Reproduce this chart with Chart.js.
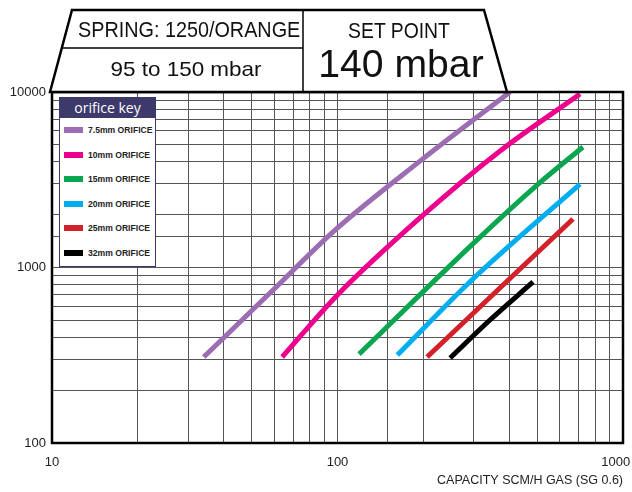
<!DOCTYPE html>
<html>
<head>
<meta charset="utf-8">
<script src="https://cdn.jsdelivr.net/npm/chart.js@4"></script>
<style>
  body { margin: 0; background: #fff; }
  #wrap { position: relative; width: 632px; height: 492px; overflow: hidden; }
  #chart { position: absolute; left: 0; top: 0; }
  #head { position: absolute; left: 0; top: 0; }
  .hdr { position: absolute; font-family: "Liberation Sans", Arial, sans-serif; color: #111; text-align: center; white-space: nowrap; line-height: 1; transform-origin: 50% 50%; }
  #key { position: absolute; left: 59px; top: 97px; width: 97px; height: 170px; background: #fff; border: 1.5px solid #3d3a6b; box-sizing: border-box; }
  #key .title { height: 20px; background: #3d3a6b; color: #fff; font: 14px "Open Sans", sans-serif; text-align: center; line-height: 20px; }
  #key .row { position: absolute; left: 4px; height: 10px; }
  #key .sw { position: absolute; left: 0; top: 2px; width: 19px; height: 6px; }
  #key .lb { position: absolute; left: 24px; top: 0; font: bold 8.6px "Liberation Sans", sans-serif; color: #222; white-space: nowrap; line-height: 10px; }
</style>
</head>
<body>
<div id="wrap">
  <canvas id="chart" width="632" height="492"></canvas>
  <svg id="head" width="632" height="96">
    <polygon points="50,92 72,10 484,10 507,92" fill="#fff" stroke="#000" stroke-width="2.5"/>
    <line x1="303" y1="10" x2="303" y2="92" stroke="#000" stroke-width="1.5"/>
    <line x1="62" y1="48" x2="303" y2="48" stroke="#000" stroke-width="1.5"/>
  </svg>
  <div class="hdr" style="left:66px;width:240px;top:19px;font-size:22px;transform:scaleX(0.9)">SPRING: 1250/ORANGE</div>
  <div class="hdr" style="left:66px;width:240px;top:58px;font-size:21px;transform:scaleX(1.07)">95 to 150 mbar</div>
  <div class="hdr" style="left:303px;width:192px;top:20px;font-size:22px;transform:scaleX(0.88)">SET POINT</div>
  <div class="hdr" style="left:303px;width:196px;top:45px;font-size:38px;transform:scaleX(1.03)">140 mbar</div>
  <div id="key"><div class="title">orifice key</div></div>
</div>
<script>
const orificeNames = ['7.5mm ORIFICE', '10mm ORIFICE', '15mm ORIFICE', '20mm ORIFICE', '25mm ORIFICE', '32mm ORIFICE'];
const orificeColors = ['#9c6db3', '#ec008c', '#0aa64f', '#00aeef', '#d3212a', '#000000'];

// capacity (x) and pressure (y)
const flow7_5 = [34, 58, 100, 195, 402];
const press7_5 = [309, 715, 1680, 4050, 10000];
const flow10 = [64, 100, 198, 371, 707];
const press10 = [309, 697, 1966, 4610, 9740];
const flow15 = [119, 303, 500, 724];
const press15 = [321, 1400, 2950, 4860];
const flow20 = [162, 303, 707];
const press20 = [317, 883, 2990];
const flow25 = [206, 400, 668];
const press25 = [309, 860, 1890];
const flow32 = [248, 342, 484];
const press32 = [305, 502, 827];

const xLabelTicks = [10, 100, 1000];
const yLabelTicks = [100, 1000, 10000];
const xTitle = 'CAPACITY SCM/H GAS (SG 0.6)';

const flows = [flow7_5, flow10, flow15, flow20, flow25, flow32];
const pressures = [press7_5, press10, press15, press20, press25, press32];

// html key
const key = document.getElementById('key');
orificeNames.forEach((name, i) => {
  const row = document.createElement('div');
  row.className = 'row';
  row.style.top = (27 + i * 24.5) + 'px';
  row.innerHTML = '<div class="sw" style="background:' + orificeColors[i] + '"></div><div class="lb">' + name + '</div>';
  key.appendChild(row);
});

const frame = {
  id: 'frame',
  afterDraw(chart) {
    const a = chart.chartArea, c = chart.ctx;
    c.save();
    c.strokeStyle = '#000';
    c.lineWidth = 2.5;
    c.strokeRect(a.left, a.top, a.right - a.left, a.bottom - a.top);
    c.restore();
  }
};

const tickFont = { family: '"Liberation Sans", Arial, sans-serif', size: 13 };

new Chart(document.getElementById('chart'), {
  type: 'line',
  data: {
    datasets: orificeNames.map((name, i) => ({
      label: name,
      data: flows[i].map((f, j) => ({ x: f, y: pressures[i][j] })),
      borderColor: orificeColors[i],
      backgroundColor: orificeColors[i],
    }))
  },
  options: {
    responsive: false,
    animation: false,
    layout: { padding: { top: 92, right: 9, left: 0, bottom: 0 } },
    plugins: { legend: { display: false }, tooltip: { enabled: false } },
    elements: {
      point: { radius: 0 },
      line: { borderWidth: 5, borderCapStyle: 'butt', cubicInterpolationMode: 'monotone' }
    },
    scales: {
      x: {
        type: 'logarithmic',
        min: 10,
        max: 1000,
        afterFit: s => { s.height = 49; s.paddingLeft = 0; s.paddingRight = 0; },
        grid: { color: '#555', lineWidth: 1, drawTicks: false },
        border: { display: false },
        ticks: {
          autoSkip: false, maxRotation: 0, padding: 12, color: '#222', font: tickFont,
          callback: v => {
            const r = Math.round(v);
            if (!xLabelTicks.includes(r)) return '';
            // last label pulled inside the canvas edge
            return r === 1000 ? r + '\u2007\u2007' : String(r);
          }
        },
        title: {
          display: true, text: xTitle, align: 'end', color: '#222',
          font: { family: '"Liberation Sans", Arial, sans-serif', size: 12.5 },
          padding: { top: 0, bottom: 4 }
        }
      },
      y: {
        type: 'logarithmic',
        min: 100,
        max: 10000,
        afterFit: s => { s.width = 52; s.paddingTop = 0; s.paddingBottom = 0; },
        grid: { color: '#555', lineWidth: 1, drawTicks: false },
        border: { display: false },
        ticks: {
          autoSkip: false, padding: 6, color: '#222', font: tickFont,
          callback: v => yLabelTicks.includes(Math.round(v)) ? String(Math.round(v)) : ''
        }
      }
    }
  },
  plugins: [frame]
});
</script>
</body>
</html>
